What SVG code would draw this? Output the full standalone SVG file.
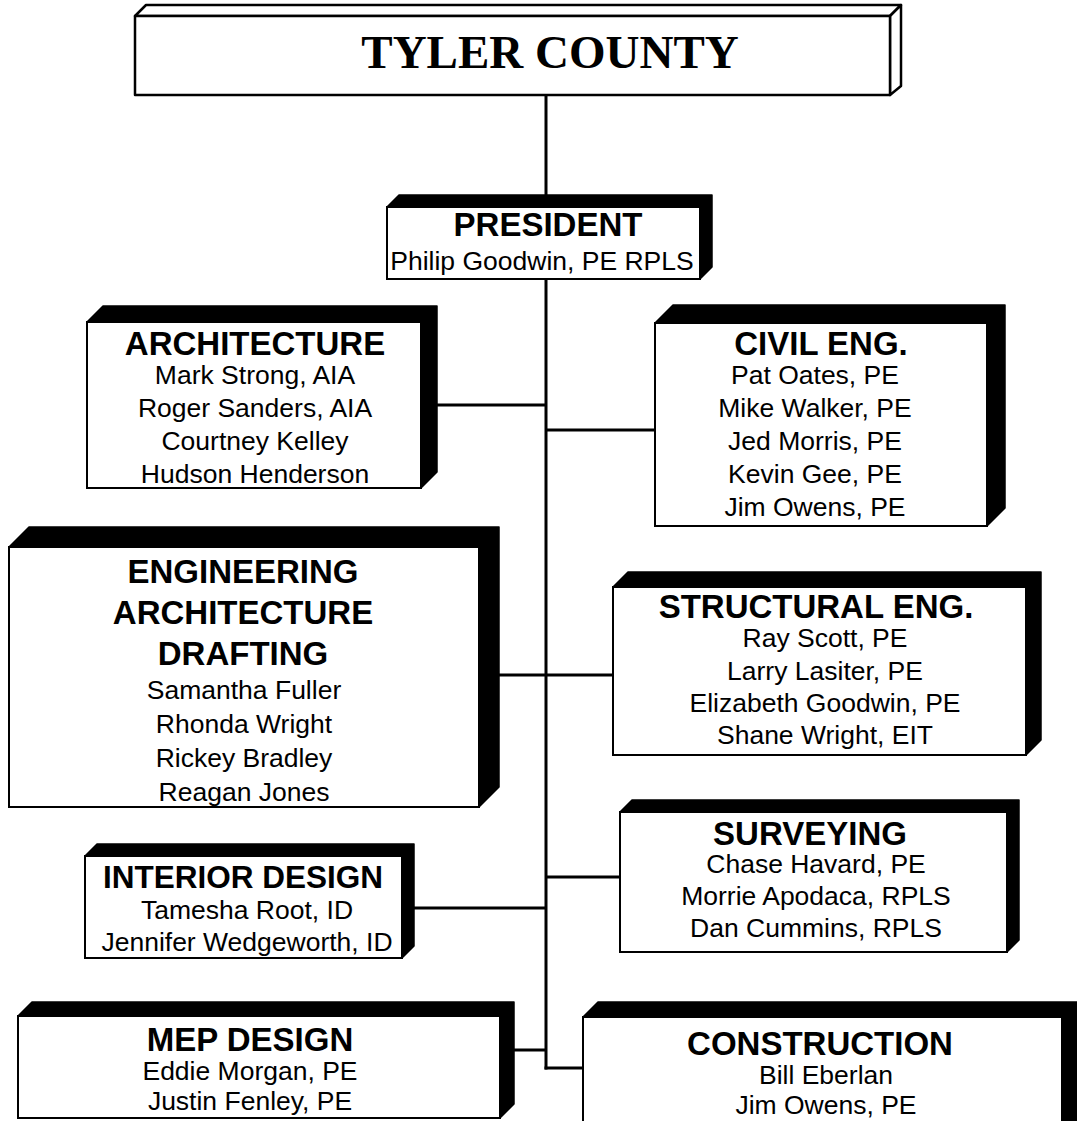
<svg xmlns="http://www.w3.org/2000/svg" width="1077" height="1121" viewBox="0 0 1077 1121">
<style>
.bg{fill:#fff}
.shade{fill:#000;stroke:#000;stroke-width:1.5;stroke-linejoin:round}
.face{fill:#fff;stroke:#000;stroke-width:2}
.wface{fill:#fff;stroke:#000;stroke-width:2.5;stroke-linejoin:round}
.h{font-family:"Liberation Sans",Arial,sans-serif;font-weight:bold;font-size:33px;text-anchor:middle;fill:#000}
.n{font-family:"Liberation Sans",Arial,sans-serif;font-size:26.5px;text-anchor:middle;fill:#000}
.t{font-family:"Liberation Serif","Times New Roman",serif;font-weight:bold;font-size:47px;text-anchor:middle;fill:#000}
.conn line{stroke:#000;stroke-width:3}
</style>
<rect class="bg" x="0" y="0" width="1077" height="1121"/>
<g id="connectors" class="conn">
<line x1="546" y1="95" x2="546" y2="1069.5"/>
<line x1="544.5" y1="1068" x2="583" y2="1068"/>
<line x1="421" y1="405" x2="546" y2="405"/>
<line x1="546" y1="430" x2="655" y2="430"/>
<line x1="479" y1="675" x2="613" y2="675"/>
<line x1="402" y1="908" x2="546" y2="908"/>
<line x1="546" y1="877" x2="620" y2="877"/>
<line x1="500" y1="1050" x2="546" y2="1050"/>
</g>
<g id="tyler-county">
<polygon class="wface" points="135,16 146,5 901,5 890,16"/>
<polygon class="wface" points="890,16 901,5 901,86 890,95"/>
<rect class="wface" x="135" y="16" width="755" height="79"/>
<text class="t" x="550" y="68">TYLER COUNTY</text>
</g>
<g id="president">
<polygon class="shade" points="387,207 399,195 712,195 712,267 700,279"/>
<rect class="face" x="387" y="207" width="313" height="72"/>
<text class="h" x="548" y="236">PRESIDENT</text>
<text class="n" x="542" y="270">Philip Goodwin, PE RPLS</text>
</g>
<g id="architecture">
<polygon class="shade" points="87,322 103,306 437,306 437,472 421,488"/>
<rect class="face" x="87" y="322" width="334" height="166"/>
<text class="h" x="255" y="355">ARCHITECTURE</text>
<text class="n" x="255" y="384">Mark Strong, AIA</text>
<text class="n" x="255" y="417">Roger Sanders, AIA</text>
<text class="n" x="255" y="450">Courtney Kelley</text>
<text class="n" x="255" y="483">Hudson Henderson</text>
</g>
<g id="civil-eng">
<polygon class="shade" points="655,323 673,305 1005,305 1005,508 987,526"/>
<rect class="face" x="655" y="323" width="332" height="203"/>
<text class="h" x="821" y="355">CIVIL ENG.</text>
<text class="n" x="815" y="384">Pat Oates, PE</text>
<text class="n" x="815" y="417">Mike Walker, PE</text>
<text class="n" x="815" y="450">Jed Morris, PE</text>
<text class="n" x="815" y="483">Kevin Gee, PE</text>
<text class="n" x="815" y="516">Jim Owens, PE</text>
</g>
<g id="engineering-architecture-drafting">
<polygon class="shade" points="9,547 29,527 499,527 499,787 479,807"/>
<rect class="face" x="9" y="547" width="470" height="260"/>
<text class="h" x="243" y="583">ENGINEERING</text>
<text class="h" x="243" y="624">ARCHITECTURE</text>
<text class="h" x="243" y="665">DRAFTING</text>
<text class="n" x="244" y="699">Samantha Fuller</text>
<text class="n" x="244" y="733">Rhonda Wright</text>
<text class="n" x="244" y="767">Rickey Bradley</text>
<text class="n" x="244" y="801">Reagan Jones</text>
</g>
<g id="structural-eng">
<polygon class="shade" points="613,587 628,572 1041,572 1041,740 1026,755"/>
<rect class="face" x="613" y="587" width="413" height="168"/>
<text class="h" x="816" y="618">STRUCTURAL ENG.</text>
<text class="n" x="825" y="647">Ray Scott, PE</text>
<text class="n" x="825" y="680">Larry Lasiter, PE</text>
<text class="n" x="825" y="712">Elizabeth Goodwin, PE</text>
<text class="n" x="825" y="744">Shane Wright, EIT</text>
</g>
<g id="surveying">
<polygon class="shade" points="620,812 632,800 1019,800 1019,940 1007,952"/>
<rect class="face" x="620" y="812" width="387" height="140"/>
<text class="h" x="810" y="845">SURVEYING</text>
<text class="n" x="816" y="873">Chase Havard, PE</text>
<text class="n" x="816" y="905">Morrie Apodaca, RPLS</text>
<text class="n" x="816" y="937">Dan Cummins, RPLS</text>
</g>
<g id="interior-design">
<polygon class="shade" points="85,856 97,844 414,844 414,946 402,958"/>
<rect class="face" x="85" y="856" width="317" height="102"/>
<text class="h" x="243" y="888" style="font-size:31.5px">INTERIOR DESIGN</text>
<text class="n" x="247" y="919">Tamesha Root, ID</text>
<text class="n" x="247" y="951">Jennifer Wedgeworth, ID</text>
</g>
<g id="mep-design">
<polygon class="shade" points="18,1016 32,1002 514,1002 514,1104 500,1118"/>
<rect class="face" x="18" y="1016" width="482" height="102"/>
<text class="h" x="250" y="1051">MEP DESIGN</text>
<text class="n" x="250" y="1080">Eddie Morgan, PE</text>
<text class="n" x="250" y="1110">Justin Fenley, PE</text>
</g>
<g id="construction">
<polygon class="shade" points="583,1017 598,1002 1077,1002 1077,1121 1062,1130"/>
<rect class="face" x="583" y="1017" width="479" height="113"/>
<text class="h" x="820" y="1055">CONSTRUCTION</text>
<text class="n" x="826" y="1084">Bill Eberlan</text>
<text class="n" x="826" y="1114">Jim Owens, PE</text>
</g>
</svg>
